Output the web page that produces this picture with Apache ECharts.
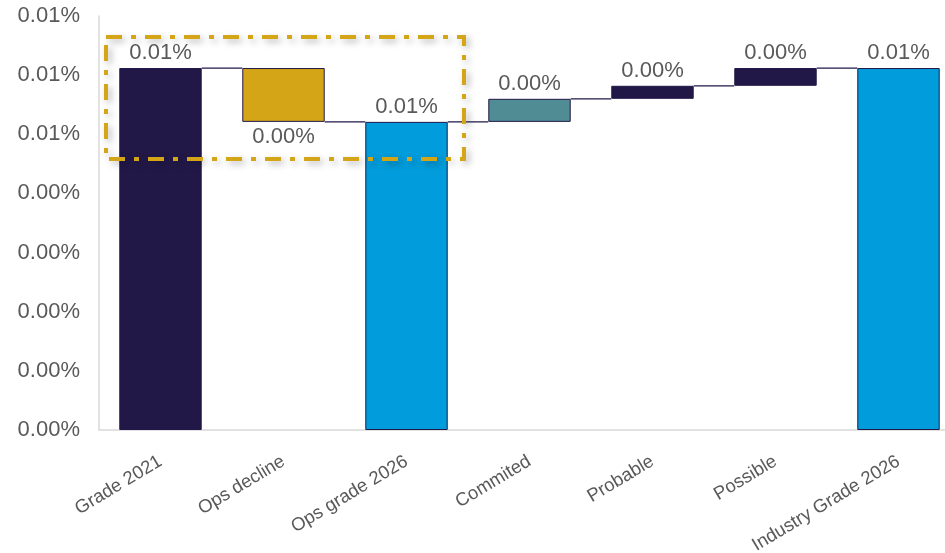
<!DOCTYPE html>
<html>
<head>
<meta charset="utf-8">
<script src="https://cdn.jsdelivr.net/npm/echarts@6/dist/echarts.min.js"></script>
<style>
  html, body { margin: 0; padding: 0; background: #fff; }
  #main { width: 945px; height: 553px; }
</style>
</head>
<body>
<div id="main"></div>
<script>
// waterfall data, values in percent
const categories = ['Grade 2021', 'Ops decline', 'Ops grade 2026', 'Commited', 'Probable', 'Possible', 'Industry Grade 2026']
const values = [0.00612, -0.00091, 0.00521, 0.00039, 0.00022, 0.0003, 0.00612]
const isTotal = [true, false, true, false, false, false, true]
const barColors = ['#221848', '#D4A617', '#009CDB', '#4F8C94', '#221848', '#221848', '#009CDB']
const yTicks = { min: 0, max: 0.007, interval: 0.001 }

const fmt = v => (Math.round(Math.abs(v) * 100 + 1e-9) / 100).toFixed(2) + '%'

// build base / visible parts and running levels
let level = 0
const base = [], shown = [], levels = []
values.forEach((v, i) => {
    if (isTotal[i]) {
        base.push(0)
        shown.push(v)
        level = v
    } else {
        base.push(v < 0 ? level + v : level)
        shown.push(Math.abs(v))
        level = level + v
    }
    levels.push(level)
})

let myChart = echarts.init(document.getElementById('main'))
const textColor = '#595959'
const font = 'Liberation Sans, Arial, sans-serif'

const options = {
    animation: false,
    grid: { left: 99, width: 861, top: 16, height: 414, outerBoundsMode: 'none', containLabel: false },
    xAxis: {
        type: 'category',
        data: categories,
        axisLine: { lineStyle: { color: '#d9d9d9', width: 1.5 } },
        axisTick: { show: false },
        axisLabel: {
            interval: 0,
            rotate: 31,
            margin: 30,
            color: textColor,
            fontSize: 18.5,
            fontFamily: font
        }
    },
    yAxis: {
        type: 'value',
        min: yTicks.min,
        max: yTicks.max,
        interval: yTicks.interval,
        splitLine: { show: false },
        axisLine: { show: true, lineStyle: { color: '#d9d9d9', width: 1.5 } },
        axisTick: { show: false },
        axisLabel: {
            margin: 19,
            color: textColor,
            fontSize: 22,
            fontFamily: font,
            formatter: v => fmt(v)
        }
    },
    series: [
        {
            type: 'bar',
            stack: 'wf',
            barWidth: '67%',
            itemStyle: { color: 'transparent' },
            silent: true,
            data: base
        },
        {
            type: 'bar',
            stack: 'wf',
            barWidth: '67%',
            data: shown.map((v, i) => ({
                value: v,
                itemStyle: { color: barColors[i], borderColor: '#221848', borderWidth: 1 },
                label: {
                    show: true,
                    position: values[i] < 0 ? 'bottom' : 'top',
                    distance: 4,
                    color: textColor,
                    fontSize: 22,
                    fontFamily: font,
                    formatter: () => fmt(values[i])
                }
            }))
        },
        {
            // connector lines between bars
            type: 'custom',
            z: 1,
            silent: true,
            data: levels.slice(0, -1).map((l, i) => [i, l]),
            renderItem: (params, api) => {
                const i = api.value(0)
                const l = api.value(1)
                const p1 = api.coord([i, l])
                const p2 = api.coord([i + 1, l])
                const w = api.size([1, 0])[0] * 0.67 / 2
                return {
                    type: 'line',
                    shape: { x1: p1[0] + w, y1: p1[1], x2: p2[0] - w, y2: p2[1] },
                    style: { stroke: '#221848', lineWidth: 1.2 }
                }
            }
        }
    ],
    graphic: [
        {
            type: 'rect',
            z: 100,
            shape: { x: 106, y: 37, width: 358, height: 122 },
            style: {
                fill: null,
                stroke: '#D4A617',
                lineWidth: 4,
                lineDash: [16, 9, 5, 9],
                shadowBlur: 7,
                shadowColor: 'rgba(0,0,0,0.3)',
                shadowOffsetX: 3,
                shadowOffsetY: 3
            }
        }
    ]
}
myChart.setOption(options)
</script>
</body>
</html>
